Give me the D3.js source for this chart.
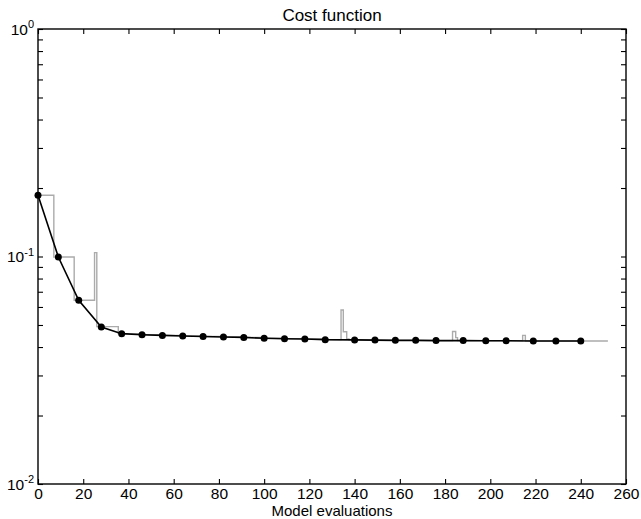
<!DOCTYPE html>
<html>
<head>
<meta charset="utf-8">
<script src="https://cdn.jsdelivr.net/npm/d3@7"></script>
<style>
  body { margin: 0; background: #fff; }
  svg { display: block; font-family: "Liberation Sans", Arial, sans-serif; }
</style>
</head>
<body>
<div id="chart"></div>
<script>
// best cost per iteration (black markers)
const iterEvals = [0, 9, 18, 28, 37, 46, 55, 64, 73, 82, 91, 100, 109, 118, 127, 140, 149, 158, 167, 176, 188, 198, 207, 219, 229, 240];
const iterCost = [0.186, 0.0995, 0.0642, 0.049, 0.0458, 0.0453, 0.0450, 0.0447, 0.0445, 0.0443, 0.0441, 0.0437, 0.0435, 0.0434, 0.0431, 0.0430, 0.0429, 0.0428, 0.0428, 0.0427, 0.0427, 0.0426, 0.0426, 0.0425, 0.0425, 0.0425];

// cost of every model evaluation (grey steps)
const evalX = [0, 7, 16, 25, 26, 35.5, 46, 55, 64, 73, 82, 91, 100, 109, 118, 127, 134, 135, 136.5, 137.5, 149, 158, 167, 176, 183.3, 184.7, 185.5, 198, 207, 214.3, 215.5, 229, 240, 252];
const evalCost = [0.186, 0.0995, 0.0642, 0.104, 0.0492, 0.0458, 0.0453, 0.0450, 0.0447, 0.0445, 0.0443, 0.0441, 0.0437, 0.0435, 0.0434, 0.0431, 0.0582, 0.0467, 0.0434, 0.0430, 0.0429, 0.0428, 0.0428, 0.0427, 0.0468, 0.0440, 0.0427, 0.0426, 0.0426, 0.0450, 0.0425, 0.0425, 0.0425, 0.0425];

const xTicks = d3.range(0, 261, 20);
const yDecades = [0.01, 0.1, 1];
const yExp = ["-2", "-1", "0"];

const W = 641, H = 519;
const mLeft = 38, mRight = 626, mTop = 29, mBottom = 484;

const svg = d3.select("#chart").append("svg")
    .attr("width", W)
    .attr("height", H);

const x = d3.scaleLinear().domain([0, 260]).range([mLeft, mRight]);
const y = d3.scaleLog().domain([0.01, 1]).range([mBottom, mTop]);

// minor log ticks
let yTicks = [];
[0.01, 0.1].forEach(d => { for (let k = 1; k <= 9; k++) yTicks.push(d * k); });
yTicks.push(1);

svg.append("g")
    .attr("transform", `translate(0,${mBottom})`)
    .call(d3.axisBottom(x).tickValues(xTicks).tickSizeInner(-5).tickSizeOuter(0).tickPadding(4))
    .call(g => g.selectAll("text").attr("font-size", 15.5).attr("fill", "#000").attr("font-family", "Liberation Sans, Arial, sans-serif"));

svg.append("g")
    .attr("transform", `translate(0,${mTop})`)
    .call(d3.axisTop(x).tickValues(xTicks).tickSizeInner(-5).tickSizeOuter(0).tickFormat(""));

svg.append("g")
    .attr("transform", `translate(${mLeft},0)`)
    .call(d3.axisLeft(y).tickValues(yTicks).tickSizeInner(-5).tickSizeOuter(0).tickFormat(""));

svg.append("g")
    .attr("transform", `translate(${mRight},0)`)
    .call(d3.axisRight(y).tickValues(yTicks).tickSizeInner(-5).tickSizeOuter(0).tickFormat(""));

svg.selectAll(".domain").remove();
svg.selectAll(".tick line").attr("stroke", "#000").attr("stroke-width", 1.1);

// frame
svg.append("rect")
    .attr("x", mLeft).attr("y", mTop)
    .attr("width", mRight - mLeft).attr("height", mBottom - mTop)
    .attr("fill", "none").attr("stroke", "#000").attr("stroke-width", 1.4);

// y labels 10^k
const yl = svg.append("g").selectAll("text")
    .data(yDecades)
    .join("text")
    .attr("x", mLeft - 4)
    .attr("y", d => y(d) + 5.5)
    .attr("text-anchor", "end")
    .attr("font-size", 15.5)
    .attr("fill", "#000");
yl.append("tspan").text("10");
yl.append("tspan").attr("dy", -6.5).attr("font-size", 11).text((d, i) => yExp[i]);

// grey per-evaluation steps
const stepLine = d3.line()
    .x(i => x(evalX[i]))
    .y(i => y(evalCost[i]))
    .curve(d3.curveStepAfter);
svg.append("path")
    .attr("d", stepLine(d3.range(evalX.length)))
    .attr("fill", "none")
    .attr("stroke", "#ababab")
    .attr("stroke-width", 1.4);

// black iterations
const iterLine = d3.line()
    .x(i => x(iterEvals[i]))
    .y(i => y(iterCost[i]));
svg.append("path")
    .attr("d", iterLine(d3.range(iterEvals.length)))
    .attr("fill", "none")
    .attr("stroke", "#000")
    .attr("stroke-width", 1.6);

svg.append("g").selectAll("circle")
    .data(d3.range(iterEvals.length))
    .join("circle")
    .attr("cx", i => x(iterEvals[i]))
    .attr("cy", i => y(iterCost[i]))
    .attr("r", 3.5)
    .attr("fill", "#000");

// titles
svg.append("text")
    .attr("x", (mLeft + mRight) / 2)
    .attr("y", 21)
    .attr("text-anchor", "middle")
    .attr("font-size", 17)
    .text("Cost function");

svg.append("text")
    .attr("x", (mLeft + mRight) / 2)
    .attr("y", 516)
    .attr("text-anchor", "middle")
    .attr("font-size", 15)
    .text("Model evaluations");
</script>
</body>
</html>
